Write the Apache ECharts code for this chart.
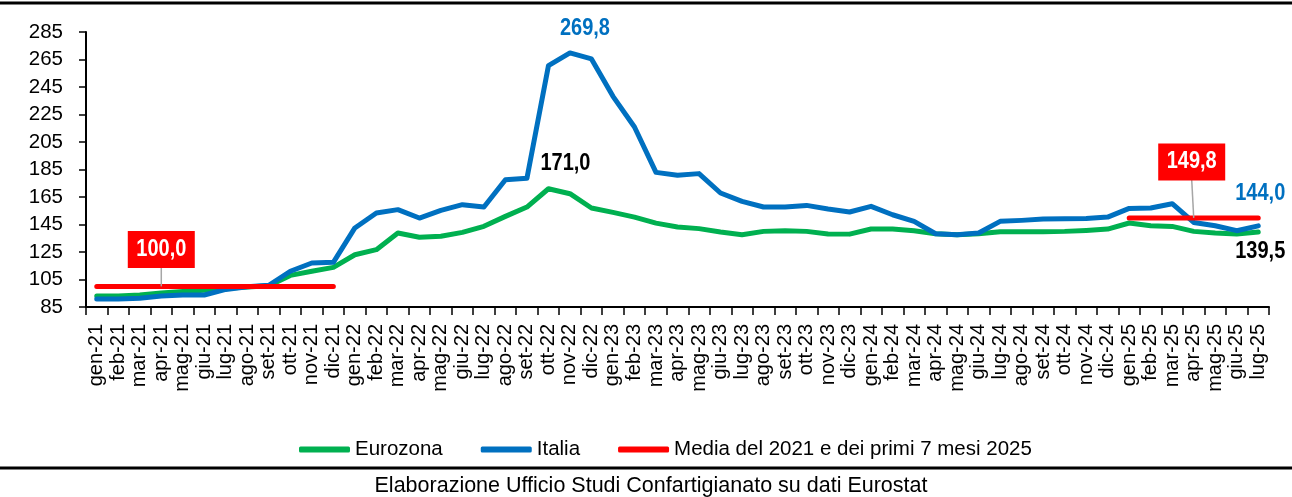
<!DOCTYPE html>
<html>
<head>
<meta charset="utf-8">
<script src="https://cdn.jsdelivr.net/npm/echarts@6.0.0/dist/echarts.min.js"></script>
<style>
  html, body { margin: 0; padding: 0; background: #fff; }
  #chart { width: 1292px; height: 497px; }
</style>
</head>
<body>
<div id="chart"></div>
<script>
// mesi
const months = [
  'gen-21','feb-21','mar-21','apr-21','mag-21','giu-21','lug-21','ago-21','set-21','ott-21','nov-21','dic-21',
  'gen-22','feb-22','mar-22','apr-22','mag-22','giu-22','lug-22','ago-22','set-22','ott-22','nov-22','dic-22',
  'gen-23','feb-23','mar-23','apr-23','mag-23','giu-23','lug-23','ago-23','set-23','ott-23','nov-23','dic-23',
  'gen-24','feb-24','mar-24','apr-24','mag-24','giu-24','lug-24','ago-24','set-24','ott-24','nov-24','dic-24',
  'gen-25','feb-25','mar-25','apr-25','mag-25','giu-25','lug-25'
];

const eurozona = [
  93.0, 93.0, 93.7, 95.2, 96.2, 97.1, 98.6, 99.5, 100.5, 108.0, 111.0, 113.8,
  123.0, 126.7, 138.8, 135.7, 136.4, 139.3, 143.7, 150.9, 157.7, 171.0, 167.4, 157.0,
  153.8, 150.4, 146.0, 143.2, 142.0, 139.5, 137.6, 140.0, 140.5, 140.0, 138.1, 138.0,
  141.7, 141.7, 140.5, 138.3, 137.6, 138.3, 139.8, 139.8, 139.8, 140.0, 140.7, 141.7,
  146.1, 144.1, 143.6, 140.0, 138.8, 138.1, 139.5
];

const italia = [
  90.8, 90.8, 91.3, 93.0, 93.7, 93.7, 97.8, 99.8, 100.8, 111.0, 117.0, 117.5,
  142.5, 153.4, 155.8, 149.7, 155.3, 159.4, 157.7, 177.6, 178.6, 260.5, 269.8, 265.4,
  238.2, 215.9, 182.9, 180.8, 182.0, 167.9, 161.8, 157.7, 157.7, 158.9, 156.3, 154.1,
  158.2, 152.1, 147.3, 138.3, 137.6, 138.8, 147.3, 148.0, 149.0, 149.2, 149.4, 150.4,
  156.7, 157.0, 160.1, 146.5, 144.1, 140.5, 144.0
];

// media 2021 e media primi 7 mesi 2025
const media = [
  100.0, 100.0, 100.0, 100.0, 100.0, 100.0, 100.0, 100.0, 100.0, 100.0, 100.0, 100.0,
  null, null, null, null, null, null, null, null, null, null, null, null,
  null, null, null, null, null, null, null, null, null, null, null, null,
  null, null, null, null, null, null, null, null, null, null, null, null,
  149.8, 149.8, 149.8, 149.8, 149.8, 149.8, 149.8
];

const yTickLabels = ['85','105','125','145','165','185','205','225','245','265','285'];

// etichette dei valori
const annotIdx = [3, 51, 22, 21, 54, 54];
const annotVal = [100.0, 149.8, 269.8, 171.0, 144.0, 139.5];
const annotText = ['100,0', '149,8', '269,8', '171,0', '144,0', '139,5'];

const GREEN = '#00B050';
const BLUE = '#0070C0';
const RED = '#FF0000';
const SANS = '"Liberation Sans", Arial, sans-serif';

const annotStyle = [
  { dx: 0, dy: -37, color: '#fff', box: true },
  { dx: -2, dy: -56, color: '#fff', box: true },
  { dx: 15, dy: -24, color: BLUE },
  { dx: 17, dy: -25, color: '#000' },
  { dx: 2, dy: -32, color: BLUE },
  { dx: 2, dy: 19, color: '#000' }
];

function renderAnnot(params, api) {
  const st = annotStyle[params.dataIndex];
  const p = api.coord([api.value(0), api.value(1)]);
  const cx = p[0] + st.dx;
  const cy = p[1] + st.dy;
  const txt = {
    type: 'text',
    x: cx,
    y: cy,
    scaleY: 1.18,
    style: {
      text: annotText[params.dataIndex],
      font: 'bold 20px ' + SANS,
      fill: st.color,
      align: 'center',
      verticalAlign: 'middle'
    }
  };
  if (!st.box) return txt;
  return {
    type: 'group',
    children: [
      { type: 'line', shape: { x1: cx, y1: cy + 18, x2: p[0], y2: p[1] }, style: { stroke: '#a6a6a6', lineWidth: 1.5 } },
      { type: 'rect', shape: { x: cx - 33.5, y: cy - 18.5, width: 67, height: 37 }, style: { fill: RED } },
      txt
    ]
  };
}

const chart = echarts.init(document.getElementById('chart'));

const lineSeries = (name, values, color) => ({
  name: name,
  type: 'line',
  data: values,
  yAxisIndex: 0,
  showSymbol: false,
  symbol: 'none',
  connectNulls: false,
  lineStyle: { color: color, width: 5, cap: 'round', join: 'round' },
  itemStyle: { color: color }
});

chart.setOption({
  animation: false,
  backgroundColor: '#fff',
  grid: { left: 86, top: 32, width: 1183, height: 275, containLabel: false },
  legend: {
    data: ['Eurozona', 'Italia', 'Media del 2021 e dei primi 7 mesi 2025'],
    left: 294,
    top: 434,
    icon: 'roundRect',
    itemWidth: 51,
    itemHeight: 6,
    itemGap: 38,
    textStyle: { fontSize: 20.5, fontFamily: SANS, color: '#000' }
  },
  xAxis: {
    type: 'category',
    data: months,
    boundaryGap: true,
    axisLine: { lineStyle: { color: '#000', width: 2 } },
    axisTick: { show: true, interval: 0, length: 8, lineStyle: { color: '#000', width: 1.5 } },
    axisLabel: { interval: 0, rotate: 90, margin: 17, fontSize: 20, fontFamily: SANS, color: '#000' },
    splitLine: { show: false }
  },
  yAxis: [
    { type: 'value', min: 85, max: 285, show: false },
    {
      type: 'value',
      min: 0,
      max: 200,
      interval: 20,
      position: 'left',
      axisLine: { show: true, lineStyle: { color: '#000', width: 2 } },
      axisTick: { show: true, length: 7, lineStyle: { color: '#000', width: 1.5 } },
      axisLabel: {
        margin: 23,
        fontSize: 20.5,
        fontFamily: SANS,
        color: '#000',
        formatter: (v) => yTickLabels[Math.round(v / 20)]
      },
      splitLine: { show: false }
    }
  ],
  graphic: [
    { type: 'line', shape: { x1: 0, y1: 3, x2: 1292, y2: 3 }, style: { stroke: '#000', lineWidth: 3 } },
    { type: 'line', shape: { x1: 0, y1: 468, x2: 1292, y2: 468 }, style: { stroke: '#000', lineWidth: 3 } },
    {
      type: 'text',
      x: 651,
      y: 486,
      style: {
        text: 'Elaborazione Ufficio Studi Confartigianato su dati Eurostat',
        font: '21.5px ' + SANS,
        fill: '#000',
        align: 'center',
        verticalAlign: 'middle'
      }
    }
  ],
  series: [
    lineSeries('Eurozona', eurozona, GREEN),
    lineSeries('Italia', italia, BLUE),
    lineSeries('Media del 2021 e dei primi 7 mesi 2025', media, RED),
    {
      name: 'etichette',
      type: 'custom',
      yAxisIndex: 0,
      clip: false,
      silent: true,
      z: 10,
      encode: { x: 0, y: 1 },
      data: annotIdx.map((x, i) => [x, annotVal[i]]),
      renderItem: renderAnnot
    }
  ]
});
</script>
</body>
</html>
